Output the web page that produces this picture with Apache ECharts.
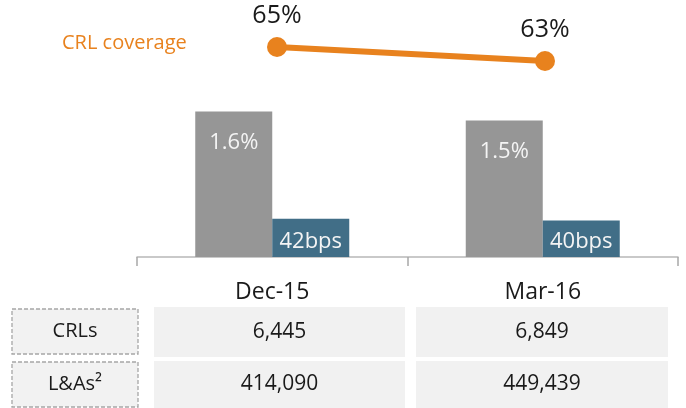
<!DOCTYPE html>
<html><head><meta charset="utf-8">
<script src="https://cdn.jsdelivr.net/npm/echarts@6/dist/echarts.min.js"></script>
<style>html,body{margin:0;padding:0;background:#fff}#c{width:686px;height:408px}</style>
</head><body><div id="c"></div>
<script>
const categories = ['Dec-15', 'Mar-16'];
const crlRatio = [1.6, 1.5];          // % (grey bars)
const costOfRisk = [0.42, 0.40];      // % (blue bars, shown as bps)
const crlCoverage = [65, 63];         // % (orange line)
const rowLabels = ['CRLs', 'L&As²'];
const crlValues = [6445, 6849];
const loanValues = [414090, 449439];
const seriesLabel = 'CRL coverage';

const FONT = '"Open Sans", "Noto Sans", sans-serif';
const fmt = v => v.toLocaleString('en-US');
const tableRows = [crlValues, loanValues];

const graphic = [];
graphic.push({type:'text', left: 62, top: 33, style:{text: seriesLabel, fill:'#E8821E', font: '20px ' + FONT}});
const rowY = [[307, 50], [361, 47]];
const boxY = [[309, 45], [362, 45]];
const colX = [[154, 251], [416, 252]];
rowLabels.forEach((lab, r) => {
  graphic.push({type:'rect', shape:{x:12, y:boxY[r][0], width:126, height:boxY[r][1]},
    style:{fill:'#f2f2f2', stroke:'#a6a6a6', lineWidth:1.3, lineDash:[4,2]}});
  graphic.push({type:'text', x:75, y:boxY[r][0] + boxY[r][1]/2,
    style:{text: lab, align:'center', verticalAlign:'middle', fill:'#1a1a1a', font:'20px ' + FONT}});
  tableRows[r].forEach((v, c) => {
    graphic.push({type:'rect', shape:{x:colX[c][0], y:rowY[r][0], width:colX[c][1], height:rowY[r][1]},
      style:{fill:'#f1f1f1'}});
    graphic.push({type:'text', x:colX[c][0] + colX[c][1]/2, y:rowY[r][0] + rowY[r][1]/2,
      style:{text: fmt(v), align:'center', verticalAlign:'middle', fill:'#1a1a1a', font:'21px ' + FONT}});
  });
});

const chart = echarts.init(document.getElementById('c'));
chart.setOption({
  animation: false,
  textStyle: {fontFamily: FONT},
  grid: [
    {left: 137, right: 8, top: 75, bottom: 151},
    {left: 143, width: 536, top: 40, height: 42}
  ],
  xAxis: [
    {type:'category', data: categories, gridIndex:0,
     axisLine:{lineStyle:{color:'#b8b8b8', width:1.5}},
     axisTick:{show:true, length:9, lineStyle:{color:'#a8a8a8', width:1.5}},
     axisLabel:{color:'#1a1a1a', fontSize:23, margin:24, fontFamily: FONT}},
    {type:'category', data: categories, gridIndex:1, show:false}
  ],
  yAxis: [
    {type:'value', min:0, max:2, gridIndex:0, show:false},
    {type:'value', min:60, max:66, gridIndex:1, show:false}
  ],
  series: [
    {type:'bar', data: crlRatio, barWidth:77, barGap:'0%', itemStyle:{color:'#969696'},
     label:{show:true, position:'insideTop', distance:20, color:'#f4f4f4', fontSize:22, fontFamily: FONT,
       formatter: p => p.value.toFixed(1) + '%'}},
    {type:'bar', data: costOfRisk, barWidth:77, barGap:'0%', itemStyle:{color:'#416E87'},
     label:{show:true, position:'insideBottom', distance:4, color:'#f4f4f4', fontSize:22, fontFamily: FONT,
       formatter: p => Math.round(p.value * 100) + 'bps'}},
    {type:'line', name: seriesLabel, data: crlCoverage, xAxisIndex:1, yAxisIndex:1,
     symbol:'circle', symbolSize:20, clip:false,
     lineStyle:{color:'#E8821E', width:6}, itemStyle:{color:'#E8821E'},
     label:{show:true, position:'top', distance:9, color:'#1a1a1a', fontSize:25, fontFamily: FONT,
       formatter: p => p.value + '%'}}
  ],
  graphic: graphic
});
</script></body></html>
